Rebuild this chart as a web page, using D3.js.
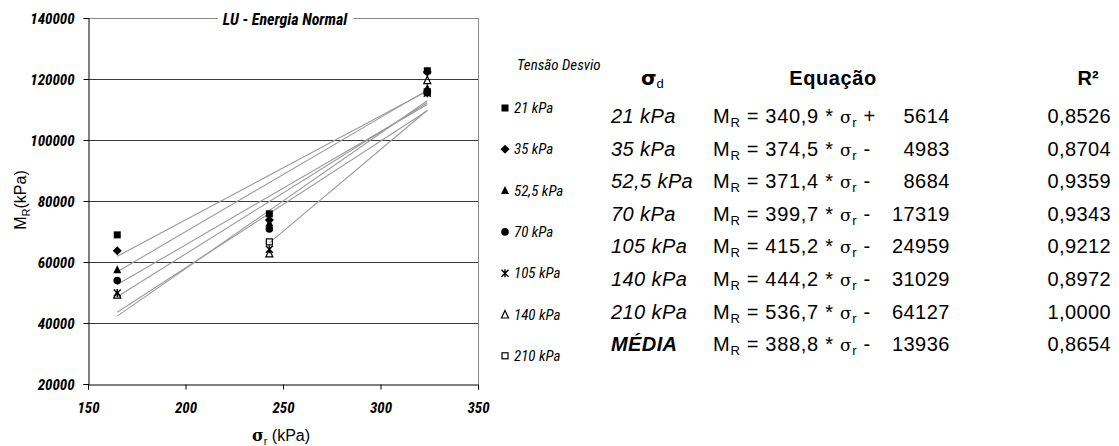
<!DOCTYPE html>
<html><head><meta charset="utf-8">
<script src="https://cdn.jsdelivr.net/npm/d3@7"></script>
<style>body{margin:0;background:#fff} svg{display:block}</style>
</head><body><svg id="c" width="1119" height="446"></svg>
<script>
// ---- data ----
const sigmaR = [165, 243, 324];
const seriesNames = ["21 kPa", "35 kPa", "52,5 kPa", "70 kPa", "105 kPa", "140 kPa", "210 kPa"];
const markerTypes = ["square", "diamond", "triangle", "circle", "star", "triangleOpen", "squareOpen"];
const mr21 = [68900, 75800, 122700];
const mr35 = [63700, 73800, 122300];
const mr52 = [57500, 72800, 117000];
const mr70 = [53900, 70800, 115500];
const mr105 = [49800, 64200, 115300];
const mr140 = [49300, 62800, 119600];
const mr210 = [null, 66600, 115800];
const slopes = [340.9, 374.5, 371.4, 399.7, 415.2, 444.2, 536.7];
const intercepts = [5614, -4983, -8684, -17319, -24959, -31029, -64127];
const fitFrom = [165, 165, 165, 165, 165, 165, 243];
const fitTo = [324, 324, 324, 324, 324, 324, 324];
const tableLabels = ["21 kPa", "35 kPa", "52,5 kPa", "70 kPa", "105 kPa", "140 kPa", "210 kPa", "MÉDIA"];
const slopeText = ["340,9", "374,5", "371,4", "399,7", "415,2", "444,2", "536,7", "388,8"];
const signText = ["+", "-", "-", "-", "-", "-", "-", "-"];
const constText = ["5614", "4983", "8684", "17319", "24959", "31029", "64127", "13936"];
const r2Text = ["0,8526", "0,8704", "0,9359", "0,9343", "0,9212", "0,8972", "1,0000", "0,8654"];
const xTicks = [150, 200, 250, 300, 350];
const yTicks = [20000, 40000, 60000, 80000, 100000, 120000, 140000];
const chartTitle = "LU - Energia Normal";
const legendTitle = "Tensão Desvio";

const seriesValues = [mr21, mr35, mr52, mr70, mr105, mr140, mr210];

// ---- layout ----
const svg = d3.select("#c");
const L = 88, R = 478, T = 18, B = 384;
const x = d3.scaleLinear().domain([150, 350]).range([L, R]);
const y = d3.scaleLinear().domain([20000, 140000]).range([B, T]);
const narrow = "'Liberation Sans Narrow','Arial Narrow','Roboto Condensed',sans-serif";
const sans = "'Liberation Sans',Arial,Helvetica,sans-serif";

// gridlines
svg.append("g").selectAll("line").data(yTicks.filter(d => d > 20000 && d < 140000)).join("line")
  .attr("x1", L).attr("x2", R).attr("y1", d => Math.round(y(d)) + 0.5).attr("y2", d => Math.round(y(d)) + 0.5)
  .attr("stroke", "#3a3a3a").attr("stroke-width", 1);

// top & right border (gray)
svg.append("line").attr("x1", L).attr("x2", R).attr("y1", T + 0.5).attr("y2", T + 0.5).attr("stroke", "#8a8a8a");
svg.append("line").attr("x1", R + 0.5).attr("x2", R + 0.5).attr("y1", T).attr("y2", B).attr("stroke", "#8a8a8a");

// axes
const yAxis = d3.axisLeft(y).tickValues(yTicks).tickSize(5).tickFormat(d3.format("d"));
const gy = svg.append("g").attr("transform", `translate(${L + 0.5},0)`).call(yAxis);
const xAxis = d3.axisBottom(x).tickValues(xTicks).tickSize(5).tickFormat(d3.format("d"));
const gx = svg.append("g").attr("transform", `translate(0,${B + 0.5})`).call(xAxis);
[gx, gy].forEach(g => {
  g.select(".domain").attr("stroke", "#000");
  g.selectAll(".tick line").attr("stroke", "#000");
  g.selectAll(".tick text").attr("fill", "#000").style("font-family", narrow)
    .style("font-style", "italic").style("font-weight", "bold").style("font-size", "15px");
});
gy.selectAll(".tick text").attr("x", -14).attr("dy", "0.35em");
gx.selectAll(".tick text").attr("y", 18).attr("dy", "0.71em");

// title on top border
const titleBg = svg.append("rect").attr("fill", "#fff");
const tt = svg.append("text").attr("x", (L + R) / 2 + 2).attr("y", T + 7)
  .attr("text-anchor", "middle").style("font-family", narrow).style("font-style", "italic")
  .style("font-weight", "bold").style("font-size", "16px").text(chartTitle);
const bb = tt.node().getBBox();
titleBg.attr("x", bb.x - 5).attr("y", T - 2).attr("width", bb.width + 10).attr("height", 5);

// trendlines
svg.append("g").selectAll("line").data(slopes).join("line")
  .attr("x1", (d, i) => x(fitFrom[i])).attr("x2", (d, i) => x(fitTo[i]))
  .attr("y1", (d, i) => y(d * fitFrom[i] + intercepts[i]))
  .attr("y2", (d, i) => y(d * fitTo[i] + intercepts[i]))
  .attr("stroke", "#9a9a9a").attr("stroke-width", 1.1);

// markers
function drawMarker(g, type, s) {
  const h = s / 2;
  if (type === "square") g.append("rect").attr("x", -h).attr("y", -h).attr("width", s).attr("height", s).attr("fill", "#000");
  else if (type === "squareOpen") g.append("rect").attr("x", -h + 0.5).attr("y", -h + 0.5).attr("width", s - 1).attr("height", s - 1).attr("fill", "none").attr("stroke", "#000").attr("stroke-width", 1.2);
  else if (type === "diamond") g.append("path").attr("d", `M0,${-h - 1}L${h + 1},0L0,${h + 1}L${-h - 1},0Z`).attr("fill", "#000");
  else if (type === "triangle") g.append("path").attr("d", `M0,${-h - 1}L${h + 0.5},${h}L${-h - 0.5},${h}Z`).attr("fill", "#000");
  else if (type === "triangleOpen") g.append("path").attr("d", `M0,${-h - 0.5}L${h},${h}L${-h},${h}Z`).attr("fill", "none").attr("stroke", "#000").attr("stroke-width", 1.2);
  else if (type === "circle") g.append("circle").attr("r", h + 0.3).attr("fill", "#000");
  else if (type === "star") g.append("path").attr("d", `M${-h},${-h}L${h},${h}M${-h},${h}L${h},${-h}M0,${-h - 0.5}L0,${h + 0.5}`).attr("stroke", "#000").attr("stroke-width", 1.4).attr("fill", "none");
}
const pg = svg.append("g");
seriesValues.map((vals, si) => ({ vals, si })).reverse().forEach(({ vals, si }) => {
  vals.forEach((v, j) => {
    if (v == null) return;
    const g = pg.append("g").attr("transform", `translate(${x(sigmaR[j])},${y(v)})`);
    drawMarker(g, markerTypes[si], 7);
  });
});

// axis titles
svg.append("text").attr("transform", "translate(26,200) rotate(-90)").attr("text-anchor", "middle")
  .style("font-family", sans).style("font-size", "16px")
  .call(t => { t.append("tspan").text("M"); t.append("tspan").attr("dy", 4).style("font-size", "11px").text("R"); t.append("tspan").attr("dy", -4).text("(kPa)"); });
svg.append("text").attr("x", 281).attr("y", 441).attr("text-anchor", "middle")
  .style("font-family", sans).style("font-size", "16px")
  .call(t => { t.append("tspan").style("font-weight", "bold").style("font-family", "'DejaVu Serif',serif").text("σ"); t.append("tspan").attr("dy", 4).style("font-size", "11px").text("r"); t.append("tspan").attr("dy", -4).text(" (kPa)"); });

// legend
svg.append("text").attr("x", 517).attr("y", 70).style("font-family", narrow).style("font-style", "italic").style("font-size", "15px").text(legendTitle);
seriesNames.forEach((n, i) => {
  const yy = 108 + i * 41.3;
  const g = svg.append("g").attr("transform", `translate(505,${yy})`);
  drawMarker(g, markerTypes[i], 7);
  svg.append("text").attr("x", 514).attr("y", yy + 5).style("font-family", narrow).style("font-style", "italic").style("font-size", "15px").text(n);
});

// table
const tf = "20px";
const hdrY = 85;
svg.append("text").attr("x", 641).attr("y", hdrY).style("font-family", sans).style("font-size", tf)
  .call(t => { t.append("tspan").style("font-weight", "bold").style("font-family", "'DejaVu Sans',sans-serif").text("σ"); t.append("tspan").attr("dy", 3).style("font-size", "13px").text("d"); });
svg.append("text").attr("x", 833).attr("y", hdrY).attr("text-anchor", "middle").style("font-family", sans).style("font-weight", "bold").style("font-size", tf).style("letter-spacing", "0.6px").text("Equação");
svg.append("text").attr("x", 1088).attr("y", hdrY).attr("text-anchor", "middle").style("font-family", sans).style("font-weight", "bold").style("font-size", tf).text("R²");
const txt = (xx, yy, s) => svg.append("text").attr("x", xx).attr("y", yy).style("font-family", sans).style("font-size", tf).text(s);
tableLabels.forEach((lab, i) => {
  const yy = 123 + i * 32.6;
  txt(611, yy, lab).style("font-style", "italic").style("font-weight", i === 7 ? "bold" : "normal").style("letter-spacing", "0.4px");
  svg.append("text").attr("x", 713).attr("y", yy).style("font-family", sans).style("font-size", tf).style("letter-spacing", "0.7px")
    .call(t => {
      t.append("tspan").text("M");
      t.append("tspan").attr("dy", 4).style("font-size", "13px").text("R");
      t.append("tspan").attr("dy", -4).text(" = " + slopeText[i] + " * ");
      t.append("tspan").style("font-family", "'DejaVu Serif',serif").style("font-size", "17px").text("σ");
      t.append("tspan").attr("dy", 4).style("font-size", "13px").text("r");
      t.append("tspan").attr("dy", -4).text(" " + signText[i]);
    });
  txt(950, yy, constText[i]).attr("text-anchor", "end").style("letter-spacing", "0.5px");
  txt(1111, yy, r2Text[i]).attr("text-anchor", "end").style("letter-spacing", "0.4px");
});
</script></body></html>
